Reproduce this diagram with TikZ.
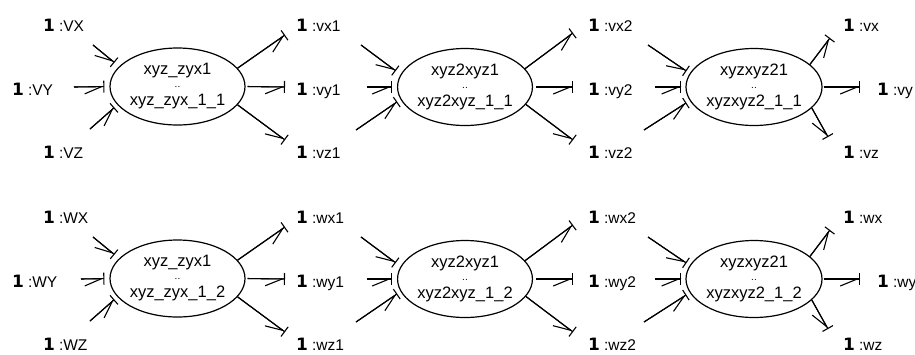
\documentclass[tikz,border=0pt]{standalone}
\usepackage{fontspec}
\setmainfont{Liberation Sans}
\newfontfamily\onefont{DejaVu Sans}
\usetikzlibrary{arrows.meta,shapes.geometric}
\newcommand\onelab[1]{{\onefont\bfseries\fontsize{17}{17}\selectfont 1}\hspace{4pt}#1}
\newcommand\twodots{{\fontsize{10}{10}\selectfont ..}}
\tikzset{
  flow/.style={line width=1.1pt, -{Bar[width=12pt]},
    postaction={draw,line width=1.1pt,-{Straight Barb[harpoon,swap,length=17pt,width=14pt]}}},
  proc/.style={draw,ellipse,line width=1.2pt,minimum width=135pt,minimum height=77pt,
    inner sep=0pt,align=center,font=\fontsize{16.5}{20}\selectfont},
  lab/.style={anchor=base west,inner sep=0pt,font=\fontsize{15.5}{17}\selectfont},
}
\begin{document}
\begin{tikzpicture}[x=1pt,y=-1pt]
\useasboundingbox (0,0) rectangle (915,354);
\foreach \r/\dy/\U/\l/\k/\ys in {1/0/V/v/1/74, 2/192/W/w/2/81} {
  % ---------- column 1
  \node[proc] (ea\r) at (177.5,86.5+\dy) {xyz\_zyx1\\[-7pt]\twodots\\[-2pt]xyz\_zyx\_1\_\k};
  \node[lab] (ia\r x) at (43,31+\dy) {\onelab{:\U X}};
  \node[lab] (ia\r y) at (12,95.5+\dy) {\onelab{:\U Y}};
  \node[lab] (ia\r z) at (43,158.5+\dy) {\onelab{:\U Z}};
  \coordinate (sa\r x) at (93,45+\dy);
  \coordinate (sa\r y) at (\ys,87+\dy);
  \coordinate (sa\r z) at (90,129+\dy);
  \draw[flow,shorten >=6pt] (sa\r x) -- (ea\r.161);
  \draw[flow,shorten >=5pt] (sa\r y) -- (ea\r.180);
  \draw[flow,shorten >=4pt] (sa\r z) -- (ea\r.197);
  \coordinate (ta\r x) at (285,35+\dy);
  \coordinate (ta\r y) at (285,87+\dy);
  \coordinate (ta\r z) at (285,140+\dy);
  \draw[flow] (ea\r.17) -- (ta\r x);
  \draw[flow,shorten <=2pt] (ea\r.0) -- (ta\r y);
  \draw[flow] (ea\r.343) -- (ta\r z);
  \node[lab] (oa\r x) at (296,31+\dy) {\onelab{:\l x1}};
  \node[lab] (oa\r y) at (296,95.5+\dy) {\onelab{:\l y1}};
  \node[lab] (oa\r z) at (296,158.5+\dy) {\onelab{:\l z1}};
  % ---------- column 2
  \node[proc,minimum width=134pt] (eb\r) at (465,87+\dy) {xyz2xyz1\\[-7pt]\twodots\\[-2pt]xyz2xyz\_1\_\k};
  \coordinate (sb\r x) at (361,45+\dy);
  \coordinate (sb\r y) at (367,87+\dy);
  \coordinate (sb\r z) at (356,130+\dy);
  \draw[flow,shorten >=6pt] (sb\r x) -- (eb\r.169);
  \draw[flow,shorten >=5pt] (sb\r y) -- (eb\r.180);
  \draw[flow,shorten >=4pt] (sb\r z) -- (eb\r.191);
  \coordinate (tb\r x) at (573,33+\dy);
  \coordinate (tb\r y) at (573,87+\dy);
  \coordinate (tb\r z) at (573,140+\dy);
  \draw[flow] (eb\r.17) -- (tb\r x);
  \draw[flow,shorten <=3pt] (eb\r.0) -- (tb\r y);
  \draw[flow] (eb\r.344) -- (tb\r z);
  \node[lab] (ob\r x) at (588,31+\dy) {\onelab{:\l x2}};
  \node[lab] (ob\r y) at (588,95.5+\dy) {\onelab{:\l y2}};
  \node[lab] (ob\r z) at (588,158.5+\dy) {\onelab{:\l z2}};
  % ---------- column 3
  \node[proc,minimum width=136pt] (ec\r) at (754,87+\dy) {xyzxyz21\\[-7pt]\twodots\\[-2pt]xyzxyz2\_1\_\k};
  \coordinate (sc\r x) at (648,45+\dy);
  \coordinate (sc\r y) at (655,87+\dy);
  \coordinate (sc\r z) at (644,130+\dy);
  \draw[flow,shorten >=4pt] (sc\r x) -- (ec\r.168);
  \draw[flow,shorten >=4pt] (sc\r y) -- (ec\r.180);
  \draw[flow,shorten >=4pt] (sc\r z) -- (ec\r.192);
  \coordinate (tc\r x) at (830,38+\dy);
  \coordinate (tc\r y) at (860,87+\dy);
  \coordinate (tc\r z) at (828,137+\dy);
  \draw[flow] (ec\r.22) -- (tc\r x);
  \draw[flow,shorten <=1pt] (ec\r.0) -- (tc\r y);
  \draw[flow] (ec\r.340) -- (tc\r z);
  \node[lab] (oc\r x) at (843,31+\dy) {\onelab{:\l x}};
  \node[lab] (oc\r y) at (877,95.5+\dy) {\onelab{:\l y}};
  \node[lab] (oc\r z) at (843,158.5+\dy) {\onelab{:\l z}};
}
\end{tikzpicture}
\end{document}
